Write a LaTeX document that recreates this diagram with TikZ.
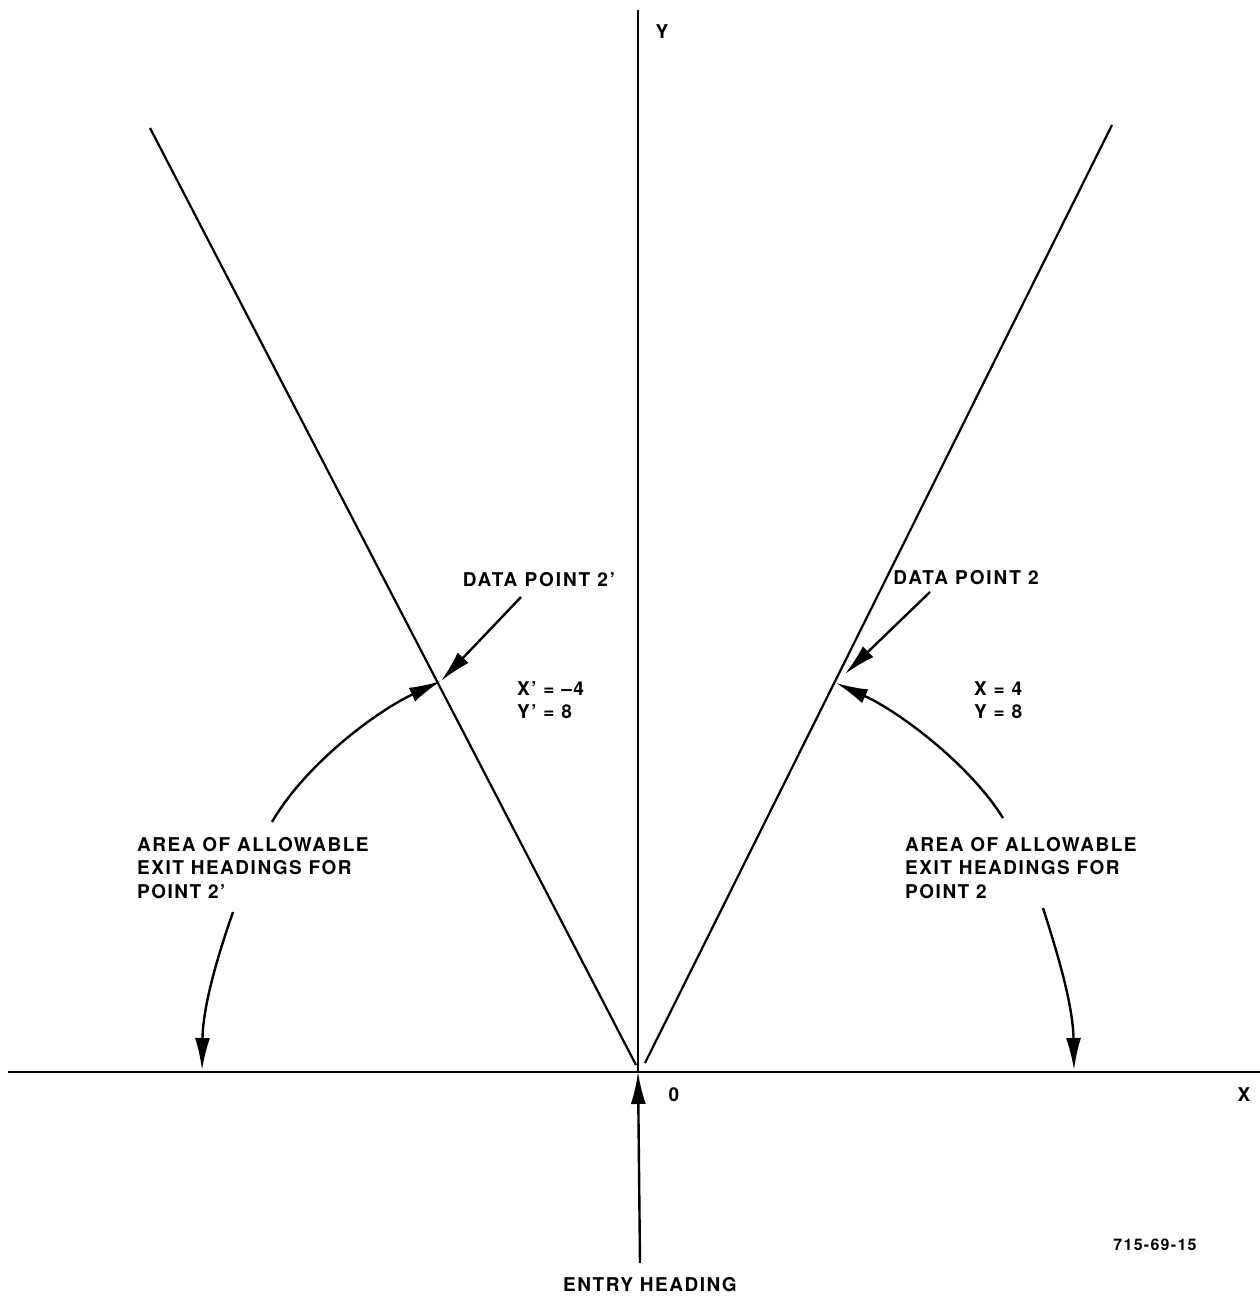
\documentclass[tikz,border=0pt]{standalone}
\usepackage{fontspec}
\setmainfont{TeX Gyre Heros}
\newfontfamily\lblfont[LetterSpace=8]{TeX Gyre Heros}
\newfontfamily\dpfont[LetterSpace=10]{TeX Gyre Heros}
\usetikzlibrary{arrows.meta}
\begin{document}
\begin{tikzpicture}[x=1pt,y=-1pt,
  axis/.style={line width=2.6pt},
  ray/.style={line width=2.2pt},
  pointer/.style={line width=2.4pt,-{Latex[length=32pt,width=15pt]}},
  lbl/.style={font=\lblfont\bfseries\fontsize{19}{23.5}\selectfont,inner sep=0pt},
  dplbl/.style={lbl,font=\dpfont\bfseries\fontsize{19}{23.5}\selectfont},
  lblleft/.style={lbl,align=left,anchor=north west}]
\useasboundingbox (0,0) rectangle (1260,1296);
% coordinates
\coordinate (O) at (638,1072);
\coordinate (ytop) at (638,10);
\coordinate (xl) at (8,1072);
\coordinate (xr) at (1260,1072);
\coordinate (ebot) at (640,1263);
\coordinate (Ltop) at (150,128);
\coordinate (Lbot) at (636,1065);
\coordinate (Rtop) at (1112,125);
\coordinate (Rbot) at (645,1063);
\coordinate (P2p) at (441,681);
\coordinate (P2) at (836,683);
\coordinate (XLtip) at (202,1070);
\coordinate (XRtip) at (1074,1070);
% axes
\draw[axis] (ytop) -- (O);
\draw[axis] (xl) -- (xr);
\draw[pointer] (ebot) -- (O);
% rays
\draw[ray] (Ltop) -- (Lbot);
\draw[ray] (Rtop) -- (Rbot);
% labels
\node[lbl] (ylab) at (662,32) {Y};
\node[lbl] (xlab) at (1244,1095) {X};
\node[lbl] (zero) at (674,1095) {0};
\node[lbl] (entry) at (650,1285) {ENTRY HEADING};
\node[lbl,font=\lblfont\bfseries\fontsize{16}{20}\selectfont] (fig) at (1155,1245) {715-69-15};
\node[dplbl] (dp2p) at (539,580) {DATA POINT 2’};
\node[dplbl] (dp2) at (966,578) {DATA POINT 2};
\node[lbl,align=left,anchor=north west] (xyp) at (517,681) {X’ = –4\\Y’ = 8};
\node[lbl,align=left,anchor=north west] (xy) at (974,681) {X = 4\\Y = 8};
\node[lblleft] (areaL) at (137,837) {AREA OF ALLOWABLE\\EXIT HEADINGS FOR\\POINT 2’};
\node[lblleft] (areaR) at (905,837) {AREA OF ALLOWABLE\\EXIT HEADINGS FOR\\POINT 2};
% pointers
\draw[pointer] (521,597) -- (P2p);
\draw[pointer] (930,592) -- (845,674);
\draw[pointer] (272,822) .. controls (305,765) and (375,712) .. (P2p);
\draw[pointer] (1003,818) .. controls (970,765) and (900,712) .. (P2);
\draw[pointer] (233,912) .. controls (218,955) and (203,1005) .. (XLtip);
\draw[pointer] (1043,908) .. controls (1058,955) and (1073,1005) .. (XRtip);
\end{tikzpicture}
\end{document}
